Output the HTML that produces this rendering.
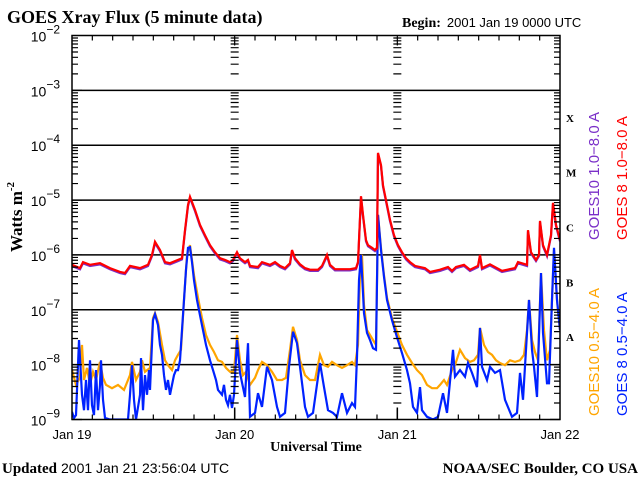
<!DOCTYPE html>
<html><head><meta charset="utf-8"><style>
html,body{margin:0;padding:0;background:#fff;}
svg{display:block;}
.serif{font-family:"Liberation Serif",serif;font-weight:bold;}
.sans{font-family:"Liberation Sans",sans-serif;}
</style></head><body>
<svg id="chart" width="640" height="480" viewBox="0 0 640 480" xmlns="http://www.w3.org/2000/svg">
<text class="serif" x="7" y="23" font-size="18">GOES Xray Flux (5 minute data)</text>
<text x="402" y="27" font-size="14"><tspan class="serif">Begin:</tspan><tspan class="sans" font-size="13" dx="6">2001 Jan 19 0000 UTC</tspan></text>
<text class="serif" font-size="17" transform="translate(22,217) rotate(-90)" text-anchor="middle">Watts m<tspan font-size="11" dy="-8">-2</tspan></text>
<text class="serif" x="316" y="451" font-size="14" text-anchor="middle">Universal Time</text>
<text x="2" y="473" font-size="15"><tspan class="serif">Updated</tspan><tspan class="sans" font-size="14" dx="4">2001 Jan 21 23:56:04 UTC</tspan></text>
<text class="serif" x="638" y="473" font-size="15" text-anchor="end">NOAA/SEC Boulder, CO USA</text>
<g id="grid"></g>
<g id="series"></g>
<g id="axes"></g>
<g id="legend" class="sans" font-size="15">
<text fill="#7a2fc8" transform="translate(599,240) rotate(-90)">GOES10 1.0−8.0 A</text>
<text fill="#ff0000" transform="translate(627,240) rotate(-90)">GOES 8 1.0−8.0 A</text>
<text fill="#ffa500" transform="translate(599,416) rotate(-90)">GOES10 0.5−4.0 A</text>
<text fill="#0022ff" transform="translate(627,416) rotate(-90)">GOES 8 0.5−4.0 A</text>
</g>
</svg>
<script>
const dayLabels=["Jan 19","Jan 20","Jan 21","Jan 22"];
const decadeExps=[-2,-3,-4,-5,-6,-7,-8,-9];
const classLabels=["X","M","C","B","A"];
const classExps=[-4,-5,-6,-7,-8];
const longHours=[0,1.18,1.62,2.66,4.13,5.61,7.08,7.82,8.56,10.03,11.21,11.80,12.25,12.98,13.72,14.46,15.64,16.23,16.67,17.11,17.41,18.15,18.89,19.62,20.36,21.10,21.84,22.57,23.31,23.75,24.34,24.79,25.52,25.97,26.26,27.44,28.03,29.21,29.95,30.69,31.43,32.16,32.46,32.90,33.64,34.38,35.12,36.29,36.89,37.62,38.07,38.80,41.02,41.90,42.20,42.64,42.93,43.38,43.67,44.26,44.71,45.00,45.15,45.59,45.89,46.33,46.92,47.51,48.10,48.69,49.28,49.87,50.61,52.08,52.82,54.30,55.47,56.06,56.66,57.84,58.72,59.90,60.20,60.49,61.67,63.44,65.36,65.80,67.13,67.28,67.72,68.46,68.90,69.05,69.49,70.08,70.67,70.97,71.41,72.00];
const goes8Long=[-6.18,-6.24,-6.13,-6.18,-6.15,-6.24,-6.31,-6.33,-6.20,-6.24,-6.18,-6.00,-5.76,-5.91,-6.13,-6.15,-6.09,-6.06,-5.55,-5.09,-4.94,-5.18,-5.45,-5.64,-5.82,-5.95,-6.06,-6.09,-6.13,-6.09,-5.95,-6.06,-6.13,-6.09,-6.20,-6.22,-6.13,-6.18,-6.13,-6.20,-6.24,-6.15,-5.91,-6.06,-6.17,-6.24,-6.27,-6.27,-6.20,-6.00,-6.18,-6.26,-6.26,-6.24,-6.13,-4.93,-5.27,-5.73,-5.82,-5.87,-5.91,-5.87,-4.14,-4.36,-4.73,-5.00,-5.36,-5.64,-5.82,-5.95,-6.06,-6.13,-6.20,-6.24,-6.31,-6.27,-6.22,-6.29,-6.22,-6.18,-6.27,-6.20,-6.00,-6.24,-6.17,-6.29,-6.24,-6.13,-6.18,-5.55,-5.95,-6.09,-6.00,-5.38,-5.82,-6.00,-5.64,-5.05,-5.45,-5.73];
const goes8ShortHours=[0,0.30,0.59,1.03,1.48,1.77,2.07,2.36,2.66,2.95,3.25,3.54,3.84,4.13,4.28,4.57,4.87,5.61,7.08,8.26,8.56,8.85,9.15,9.44,10.03,10.18,10.48,10.77,11.07,11.36,11.51,11.95,12.25,12.69,12.98,13.28,13.57,13.87,14.16,14.46,14.75,15.05,15.34,15.64,15.93,16.23,16.52,16.82,17.11,17.41,17.70,18.00,18.44,18.89,19.33,19.77,20.36,20.80,21.25,21.54,22.13,22.43,22.72,23.02,23.31,23.61,23.90,24.34,24.79,25.52,25.97,26.26,27.00,27.44,28.03,28.77,29.51,30.25,30.69,31.43,32.02,32.61,33.20,33.64,34.38,34.82,35.56,36.59,37.18,37.77,38.51,39.10,39.84,40.57,41.31,41.75,42.05,42.34,42.64,42.93,43.08,43.52,43.97,44.41,44.85,45.15,45.59,46.03,46.48,47.21,47.95,48.69,49.43,49.87,50.31,50.90,51.34,51.64,52.38,53.26,54.00,54.74,55.33,56.21,56.51,57.25,57.98,58.43,59.02,59.75,60.20,60.49,61.23,61.67,62.41,63.15,63.89,64.92,65.66,66.10,66.54,67.13,67.43,67.87,68.16,68.61,69.20,69.49,70.08,70.38,70.82,71.11,71.56,72.00];
const goes8Short=[-8.86,-8.97,-8.92,-7.55,-8.55,-8.83,-8.28,-8.83,-7.92,-8.74,-8.92,-8.10,-8.83,-8.37,-7.92,-8.64,-8.97,-9.0,-9.0,-9.0,-8.55,-8.01,-8.64,-9.0,-8.55,-7.88,-8.83,-8.19,-8.55,-8.10,-8.46,-7.19,-7.08,-7.28,-7.64,-7.82,-8.19,-8.46,-8.28,-8.55,-8.37,-8.19,-8.10,-8.10,-7.92,-7.37,-6.82,-6.27,-5.87,-5.86,-6.13,-6.46,-6.82,-7.10,-7.37,-7.64,-7.92,-8.10,-8.28,-8.46,-8.55,-8.37,-8.64,-8.74,-8.55,-8.79,-8.55,-7.55,-8.15,-8.59,-7.61,-8.95,-8.88,-8.52,-8.77,-8.04,-8.28,-8.77,-8.95,-8.88,-8.04,-7.40,-7.61,-8.04,-8.77,-8.95,-8.88,-7.97,-8.41,-8.83,-8.88,-8.95,-8.52,-8.88,-8.70,-8.77,-7.86,-6.46,-6.00,-6.69,-7.06,-7.42,-7.55,-7.70,-7.73,-5.27,-5.91,-6.40,-6.82,-7.19,-7.50,-7.79,-8.10,-8.34,-8.77,-8.88,-8.41,-8.83,-8.95,-9.0,-8.95,-8.52,-8.88,-7.73,-8.22,-8.10,-8.22,-7.97,-8.15,-8.41,-7.33,-8.04,-8.28,-8.04,-8.15,-8.10,-8.64,-8.95,-8.88,-8.15,-8.64,-7.42,-6.82,-7.73,-8.04,-8.59,-6.33,-7.42,-8.34,-8.34,-6.82,-5.87,-6.82,-7.37];
const goes10ShortHours=[0,0.59,1.18,1.48,1.77,2.21,2.66,3.10,3.54,4.13,4.57,5.02,5.90,6.79,7.67,8.56,8.85,9.44,10.03,10.33,10.77,11.51,11.95,12.25,12.69,13.28,13.72,14.16,14.75,15.20,15.64,16.08,16.52,16.97,17.41,18.00,18.59,19.18,19.77,20.36,20.95,21.54,22.13,22.72,23.31,23.90,24.34,24.79,25.23,25.67,26.26,27.00,27.44,28.03,28.77,29.51,30.25,30.98,31.57,32.16,32.61,33.20,33.64,34.38,35.12,35.85,36.59,37.18,37.77,38.36,39.10,39.84,40.57,41.31,41.75,42.20,42.49,42.79,43.08,43.52,43.97,44.41,44.85,45.15,45.59,46.03,46.48,47.21,47.95,48.69,49.43,50.16,50.90,51.64,52.38,53.11,53.85,54.30,54.89,55.33,56.06,56.51,57.25,57.98,58.72,59.31,59.90,60.20,60.79,61.38,61.97,62.56,63.15,63.89,64.62,65.36,66.10,66.69,67.13,67.43,67.87,68.31,68.75,69.20,69.64,70.08,70.52,70.82,71.11,71.56,72.00];
const goes10Short=[-8.10,-8.37,-8.24,-7.64,-8.28,-8.06,-8.37,-8.13,-8.28,-7.95,-8.24,-8.37,-8.43,-8.37,-8.46,-8.19,-7.95,-8.28,-8.13,-7.92,-8.13,-8.06,-7.15,-7.06,-7.22,-7.64,-7.92,-8.01,-8.10,-7.92,-7.82,-7.73,-6.82,-6.00,-5.82,-6.37,-6.78,-7.15,-7.46,-7.64,-7.77,-7.92,-7.95,-8.06,-8.13,-8.13,-7.46,-7.92,-8.19,-8.13,-8.37,-8.24,-8.10,-7.95,-8.01,-8.13,-8.28,-8.28,-8.24,-7.73,-7.31,-7.55,-7.92,-8.19,-8.28,-8.28,-7.82,-8.01,-8.04,-7.95,-8.01,-8.06,-8.01,-7.95,-8.01,-7.64,-6.37,-6.00,-6.91,-7.37,-7.46,-7.55,-7.64,-5.27,-5.87,-6.37,-6.78,-7.15,-7.40,-7.64,-7.82,-7.97,-8.10,-8.19,-8.37,-8.43,-8.43,-8.37,-8.28,-8.37,-8.10,-8.01,-7.73,-7.88,-7.95,-7.92,-7.82,-7.33,-7.64,-7.77,-7.82,-7.92,-7.97,-8.01,-7.92,-7.95,-7.92,-7.82,-7.37,-6.82,-7.55,-7.77,-7.92,-6.33,-7.37,-7.92,-7.73,-6.82,-5.91,-6.82,-7.37];

const NS="http://www.w3.org/2000/svg";
const L=72,R=560,T=35.5,B=419.5;
function xScale(h){return L+(R-L)*h/72;}
function yScale(lg){return T+(B-T)*(-2-lg)/7;}
function mk(tag,attrs,parent){const e=document.createElementNS(NS,tag);for(const k in attrs)e.setAttribute(k,attrs[k]);parent.appendChild(e);return e;}
const grid=document.getElementById('grid'),axes=document.getElementById('axes'),series=document.getElementById('series');

const defs=mk('defs',{},document.getElementById('chart'));
const cp=mk('clipPath',{id:'plotclip'},defs);
mk('rect',{x:L,y:T,width:R-L,height:B-T},cp);
series.setAttribute('clip-path','url(#plotclip)');

decadeExps.forEach(function(e){
  const y=yScale(e);
  if(e<-2&&e>-9){const ln=mk('line',{x1:L,x2:R,y1:y,y2:y,stroke:'#000','stroke-width':1.5},grid);
    
    }
  const t=mk('text',{x:60,y:y+6,'font-size':14,'text-anchor':'end',class:'sans'},axes);
  
  
  t.innerHTML='10<tspan font-size="12" dy="-8">−'+(-e)+'</tspan>';
});
const tickPath=[];
for(let e=-9;e<-2;e++){
  for(let m=2;m<=9;m++){
    const y=yScale(e+Math.log10(m));
    tickPath.push('M'+L+' '+y+'h6','M'+R+' '+y+'h-6');
    [1,2].forEach(function(d){const x=xScale(d*24);tickPath.push('M'+(x-4)+' '+y+'h8');});
  }
  const y0=yScale(e);
  tickPath.push('M'+L+' '+y0+'h10','M'+R+' '+y0+'h-10');
}
for(let h=3;h<72;h+=3){const x=xScale(h);const len=(h%24===0)?10:5;tickPath.push('M'+x+' '+B+'v-'+len,'M'+x+' '+T+'v'+len);}
const tp=mk('path',{d:tickPath.join(''),stroke:'#000','stroke-width':1.2,fill:'none'},axes);


[1,2].forEach(function(d){const x=xScale(d*24);
  const ln=mk('line',{x1:x,x2:x,y1:B,y2:B-12,stroke:'#000','stroke-width':1.5},axes);
  
  });
const fr=mk('rect',{x:L,y:T,width:R-L,height:B-T,fill:'none',stroke:'#000','stroke-width':1.5},axes);


dayLabels.forEach(function(lb,i){
  const t=mk('text',{x:xScale(i*24),y:439,'font-size':13,'text-anchor':'middle',class:'sans'},axes);
  t.textContent=lb;
  
  
});
classLabels.forEach(function(c,i){
  const t=mk('text',{x:566,y:yScale(classExps[i]+0.5)+4,'font-size':11,class:'serif'},axes);
  t.textContent=c;
  
  
});
function line(hours,vals,color,name,dy){
  const pts=hours.map(function(h,i){return xScale(h).toFixed(1)+','+(yScale(vals[i])+dy).toFixed(1);}).join(' ');
  const p=mk('polyline',{points:pts,fill:'none',stroke:color,'stroke-width':2.2,'stroke-linejoin':'miter'},series);
  
  
}
line(goes10ShortHours,goes10Short,'#ffa500','series-goes10-short',0);
line(goes8ShortHours,goes8Short,'#0022ff','series-goes8-short',0);
line(longHours,goes8Long,'#7a2fc8','series-goes10-long',1.2);
line(longHours,goes8Long,'#ff0000','series-goes8-long',0);
</script>
</body></html>
